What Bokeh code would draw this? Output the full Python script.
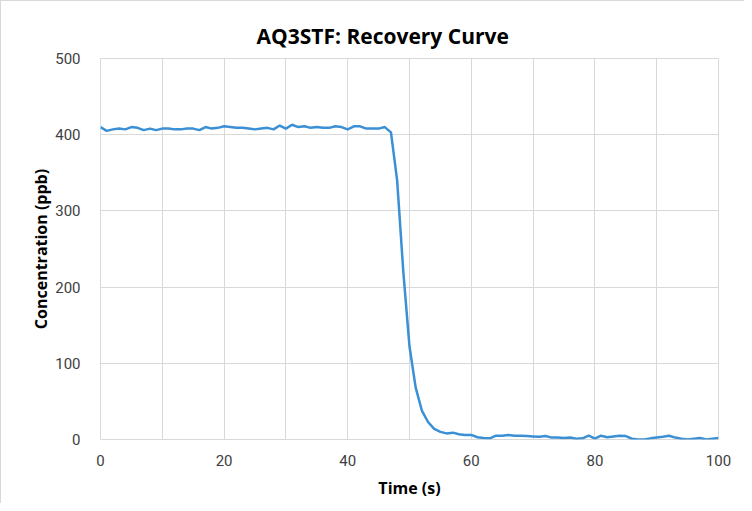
from bokeh.plotting import figure
from bokeh.models import FixedTicker, SingleIntervalTicker, Range1d
from bokeh.embed import file_html
from bokeh.resources import INLINE

time_s = list(range(0, 101))
concentration_ppb = [
    410, 405, 407, 408, 407, 410, 409, 406, 408, 406,
    408, 408, 407, 407, 408, 408, 406, 410, 408, 409,
    411, 410, 409, 409, 408, 407, 408, 409, 407, 412,
    408, 413, 410, 411, 409, 410, 409, 409, 411, 410,
    407, 411, 411, 408, 408, 408, 410, 403, 340, 220,
    122, 68, 38, 23, 14, 10, 8, 9, 7, 6,
    6, 3, 2, 1.5, 5, 5, 6, 5, 5, 4.5,
    4, 3.5, 4.5, 2.5, 2.5, 2, 2.5, 1, 1.5, 5,
    1, 5, 3, 4, 5, 4.5, 1, 0, 0, 1.5,
    2.5, 3.5, 5, 2.5, 1, 0, 1, 2, 0, 1,
    2,
]
x_tick_labels = [0, 20, 40, 60, 80, 100]
y_tick_labels = [0, 100, 200, 300, 400, 500]

FONT = "Roboto"
BOLD_FONT = "Open Sans"
GRID = "#d9d9d9"

p = figure(width=744, height=503, output_backend="svg", toolbar_location=None,
           x_range=Range1d(0, 100), y_range=Range1d(0, 500),
           min_border_left=99, min_border_right=27, min_border_top=57, min_border_bottom=65,
           title="AQ3STF: Recovery Curve")
p.styles = {"border-top": "1px solid #d9d9d9", "border-left": "1px solid #d9d9d9"}

p.title.align = "left"
p.title.offset = 156
p.title.standoff = 18
p.title.text_font = BOLD_FONT
p.title.text_font_size = "21px"
p.title.text_font_style = "bold"
p.title.text_color = "#000000"

p.line(time_s, concentration_ppb, line_color="#3a8fd5", line_width=2.5)

p.outline_line_color = GRID
p.xaxis.ticker = FixedTicker(ticks=x_tick_labels)
p.yaxis.ticker = FixedTicker(ticks=y_tick_labels)
p.xgrid.ticker = SingleIntervalTicker(interval=10)
p.xgrid.grid_line_color = GRID
p.ygrid.grid_line_color = GRID

for ax in (p.xaxis[0], p.yaxis[0]):
    ax.axis_line_color = None
    ax.major_tick_line_color = None
    ax.minor_tick_line_color = None
    ax.major_label_text_font = FONT
    ax.major_label_text_font_size = "15px"
    ax.major_label_text_color = "#404040"
    ax.axis_label_text_font = BOLD_FONT
    ax.axis_label_text_font_size = "16px"
    ax.axis_label_text_font_style = "bold"
    ax.axis_label_text_color = "#000000"

p.xaxis.axis_label = "Time (s)"
p.yaxis.axis_label = "Concentration (ppb)"
p.xaxis.major_label_standoff = 9
p.yaxis.major_label_standoff = 14
p.xaxis.axis_label_standoff = 8
p.yaxis.axis_label_standoff = 0

open("out.html", "w").write(file_html(p, INLINE))
